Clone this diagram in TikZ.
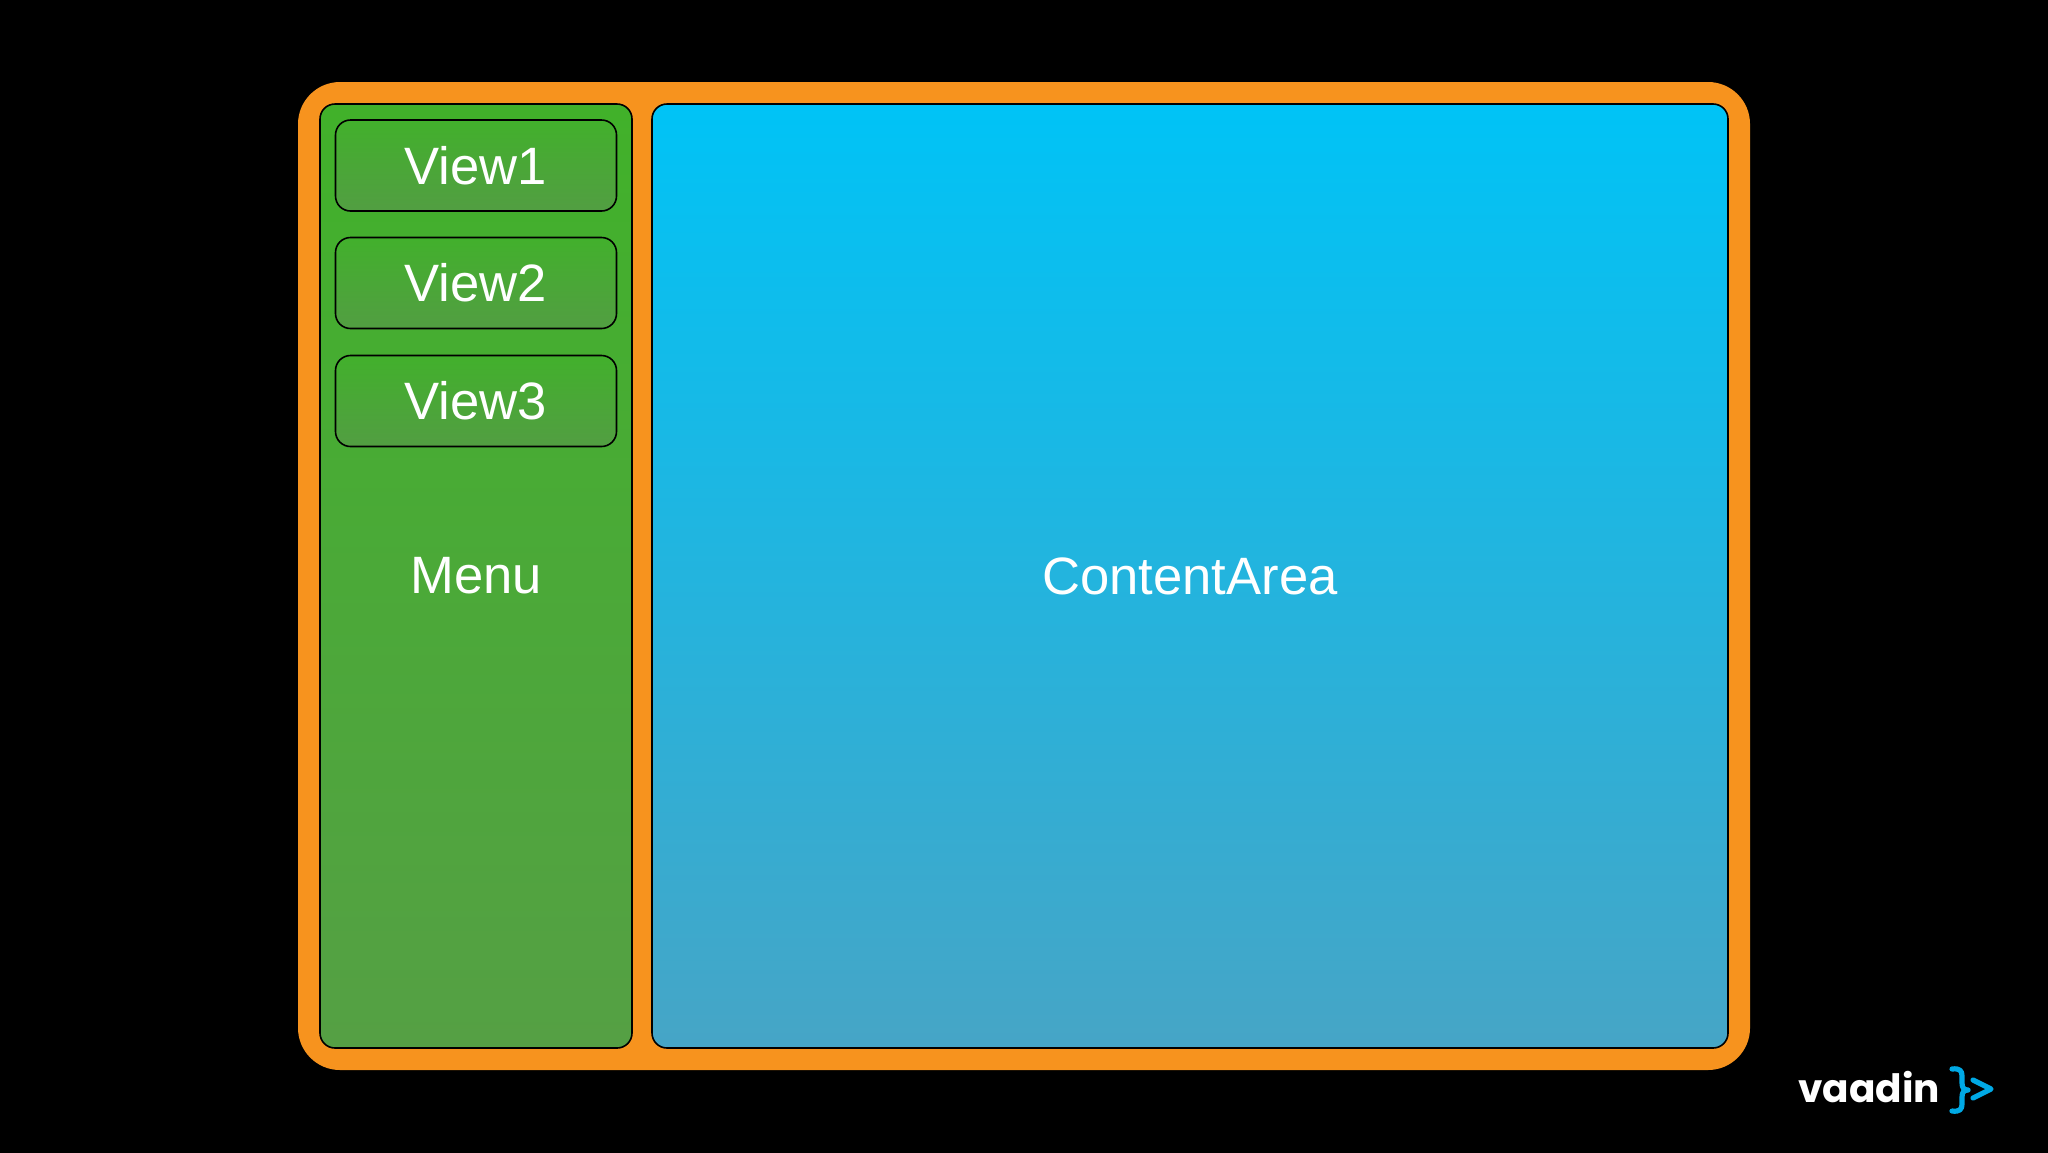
\documentclass[tikz,border=0pt]{standalone}
\usepackage{fontspec}
\setmainfont{Liberation Sans}
\newfontfamily\logofont{Poppins}
\tikzset{
  panel/.style={draw=black,line width=0.8pt,rounded corners=7.5pt,inner sep=0pt,outer sep=0pt,
     anchor=north west,text=white,font=\fontsize{26.3}{30}\selectfont,align=center},
  menupanel/.style={panel,top color=menutop,bottom color=menubot,middle color=menumid},
  contentpanel/.style={panel,top color=contenttop,bottom color=contentbot,shading angle=0},
  viewbox/.style={panel,top color=viewtop,bottom color=viewbot},
  logomark/.style={draw=logoblue,line width=2.6pt,line cap=round,line join=round}
}
\definecolor{frameorange}{HTML}{F7931E}
\definecolor{menutop}{HTML}{41B12A}
\definecolor{menumid}{HTML}{4BA938}
\definecolor{menubot}{HTML}{55A044}
\definecolor{contenttop}{HTML}{00C3F6}
\definecolor{contentbot}{HTML}{46A5C6}
\definecolor{viewtop}{HTML}{42B02C}
\definecolor{viewbot}{HTML}{529E42}
\definecolor{logoblue}{HTML}{00A9E5}
\begin{document}
\begin{tikzpicture}[x=0.5pt,y=-0.5pt]
\useasboundingbox (0,0) rectangle (2048,1152);
\fill[black] (-10,-10) rectangle (2058,1162);
\node[anchor=north west,fill=frameorange,rounded corners=21pt,inner sep=0pt,outer sep=0pt,
  minimum width=726pt,minimum height=494pt] (frame) at (298,82) {};
\node[menupanel,minimum width=156pt,minimum height=472pt] (menu) at (320,104) {Menu};
\node[contentpanel,minimum width=538pt,minimum height=472pt] (content) at (652,104) {ContentArea};
\node[viewbox,minimum width=140.5pt,minimum height=45.5pt] (view1) at (335.5,120) {View1};
\node[viewbox,minimum width=140.5pt,minimum height=45.5pt] (view2) at (335.5,237.5) {View2};
\node[viewbox,minimum width=140.5pt,minimum height=45.5pt] (view3) at (335.5,355.5) {View3};
\node[anchor=base west,inner sep=0pt,text=white,font=\logofont\bfseries\fontsize{19.5}{24}\selectfont] (logo) at (1798,1102) {vaadin};
\draw[logomark] (1952,1069) .. controls (1960,1068) and (1962,1071) .. (1962,1076)
  -- (1962,1083) .. controls (1962,1088) and (1964,1090) .. (1968,1090)
  .. controls (1964,1090) and (1962,1092) .. (1962,1097)
  -- (1962,1104) .. controls (1962,1109) and (1960,1112) .. (1952,1111);
\draw[logomark] (1973,1080) -- (1991,1089) -- (1973,1098);
\end{tikzpicture}
\end{document}
